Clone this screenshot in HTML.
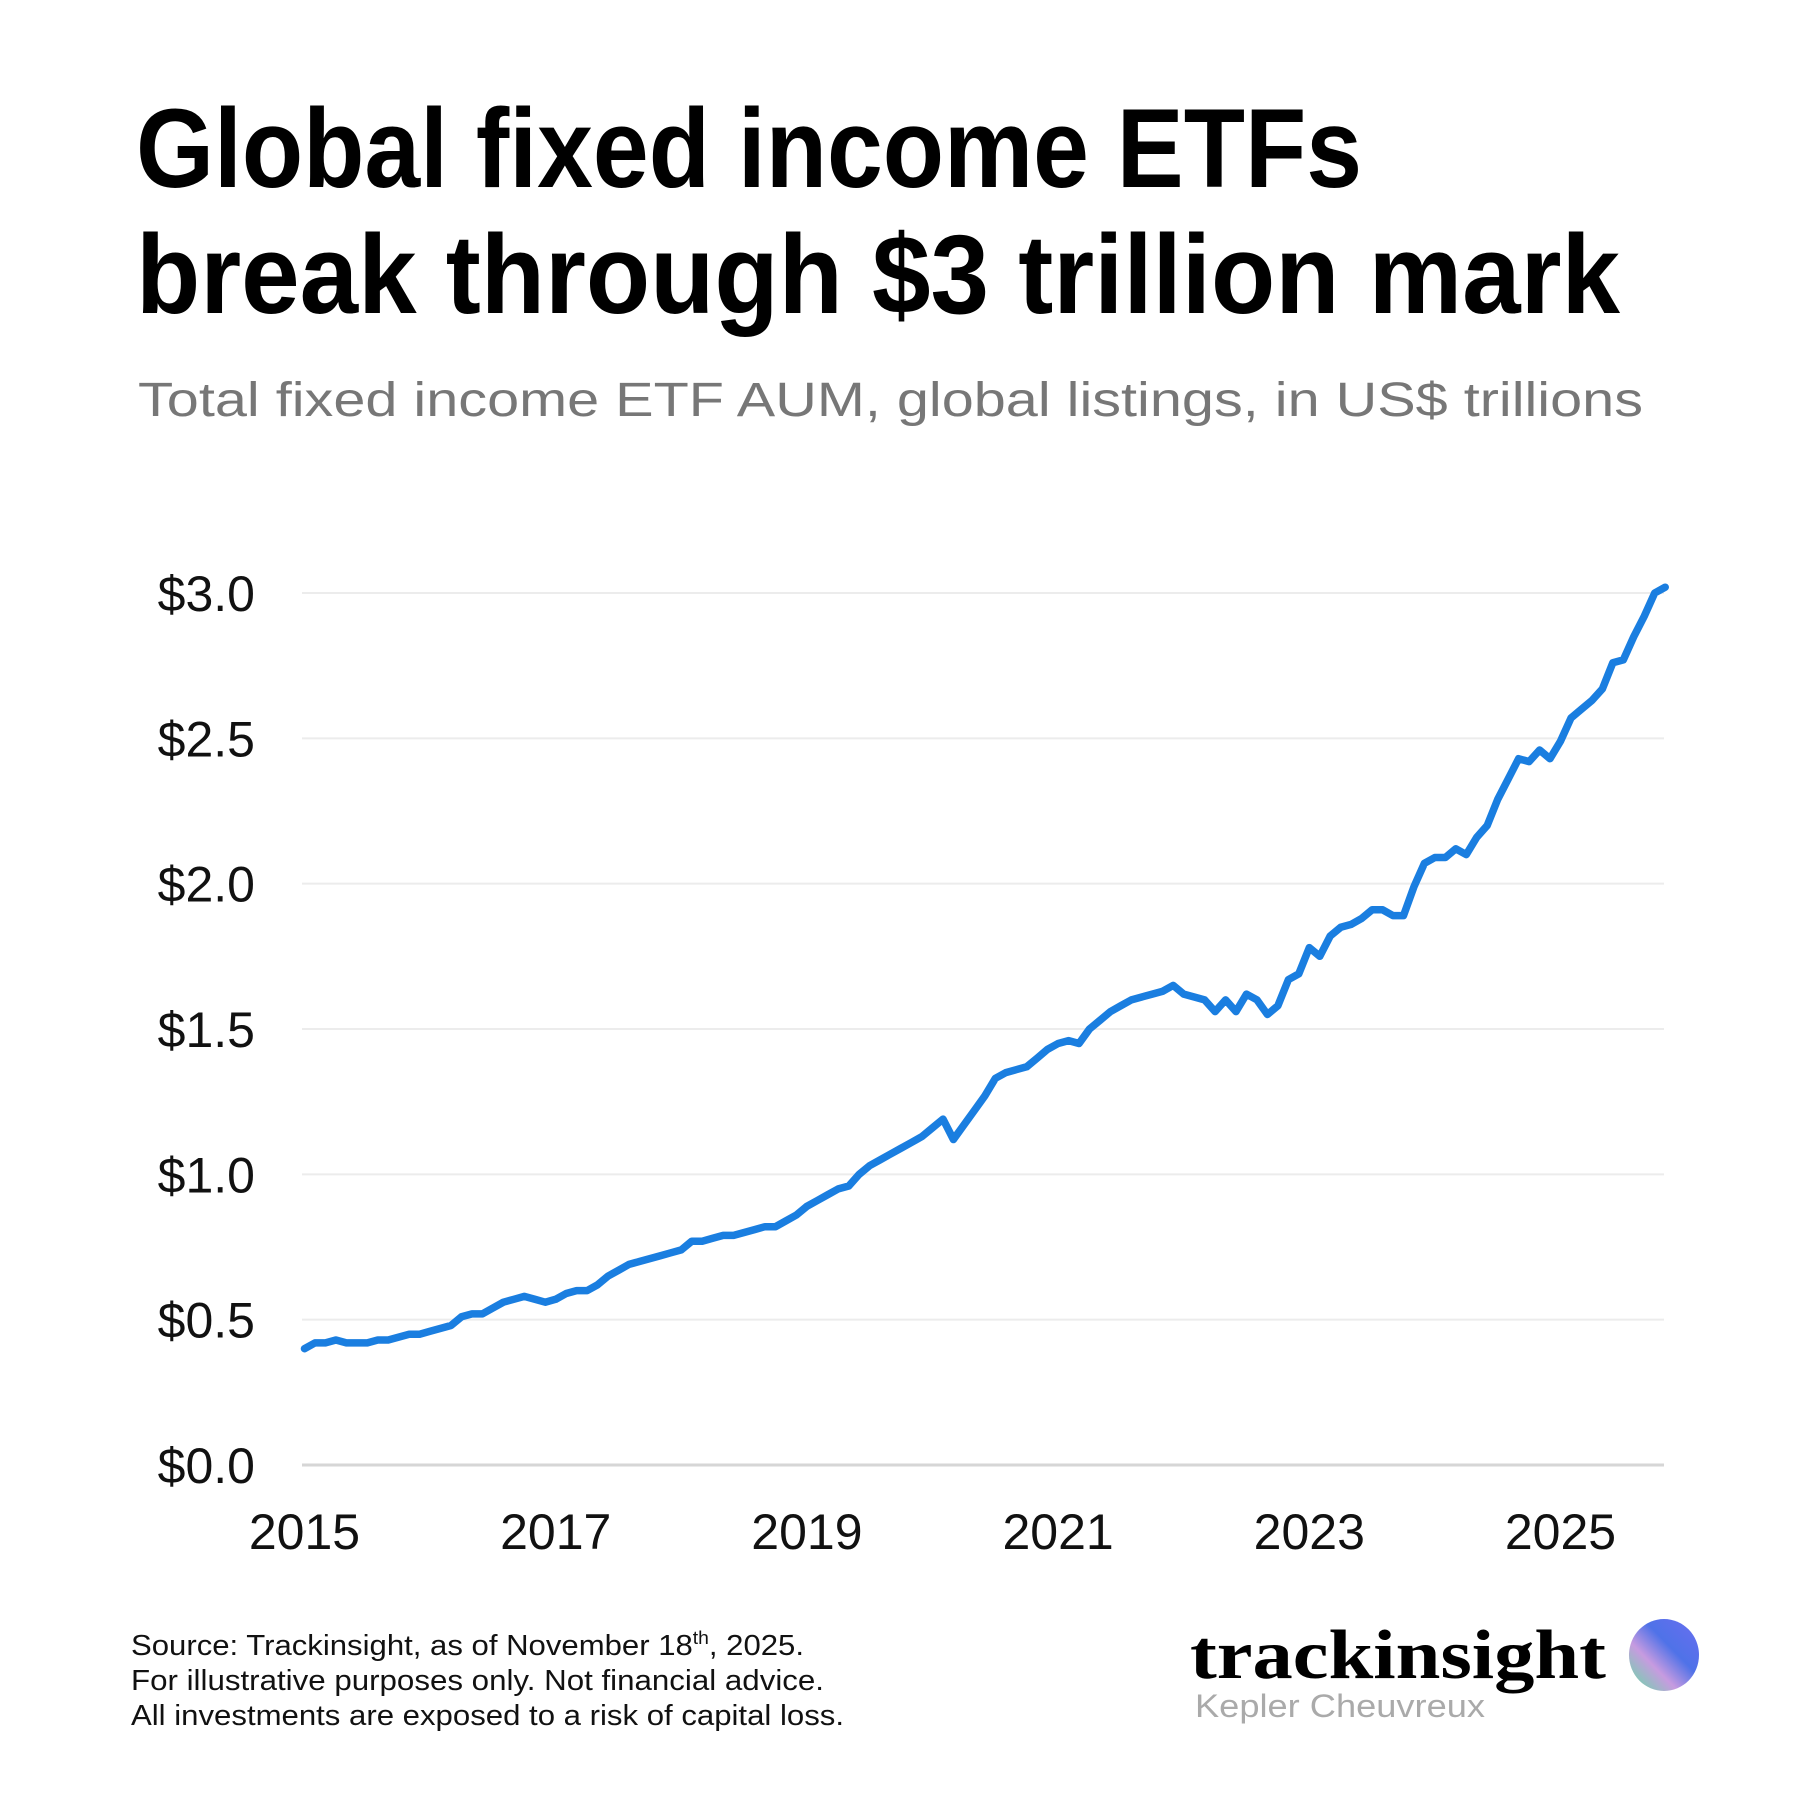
<!DOCTYPE html>
<html><head><meta charset="utf-8"><style>
html,body{margin:0;padding:0;background:#fff;}
svg{display:block;}
text{font-family:"Liberation Sans",sans-serif;}
</style></head><body>
<svg id="chart" width="1800" height="1800" viewBox="0 0 1800 1800" xmlns="http://www.w3.org/2000/svg">
<rect width="1800" height="1800" fill="#fff"/>
<text x="136" y="187" font-size="112" font-weight="bold" fill="#000" textLength="1226" lengthAdjust="spacingAndGlyphs">Global fixed income ETFs</text>
<text x="136" y="313" font-size="112" font-weight="bold" fill="#000" textLength="1484" lengthAdjust="spacingAndGlyphs">break through $3 trillion mark</text>
<text x="138" y="416" font-size="48" fill="#777" textLength="1505" lengthAdjust="spacingAndGlyphs">Total fixed income ETF AUM, global listings, in US$ trillions</text>
<g id="grid"></g>
<g id="yticks"></g>
<g id="xticks"></g>
<path id="line" fill="none" stroke="#1a7ee0" stroke-width="7.5" stroke-linejoin="round" stroke-linecap="round"/>
<g font-size="29" fill="#111">
<text x="131" y="1655" textLength="673" lengthAdjust="spacingAndGlyphs">Source: Trackinsight, as of November 18<tspan font-size="18" dy="-11">th</tspan><tspan dy="11">, 2025.</tspan></text>
<text x="131" y="1690" textLength="693" lengthAdjust="spacingAndGlyphs">For illustrative purposes only. Not financial advice.</text>
<text x="131" y="1725" textLength="713" lengthAdjust="spacingAndGlyphs">All investments are exposed to a risk of capital loss.</text>
</g>
<text x="1190" y="1678" font-weight="bold" font-size="70" fill="#000" textLength="416" lengthAdjust="spacingAndGlyphs" style="font-family:'Liberation Serif',serif">trackinsight</text>
<text x="1195" y="1717" font-size="32" fill="#aaa" textLength="290" lengthAdjust="spacingAndGlyphs">Kepler Cheuvreux</text>
<defs><linearGradient id="lg" x1="0" y1="1" x2="1" y2="0"><stop offset="0" stop-color="#5fe0a0"/><stop offset="0.35" stop-color="#c79be0"/><stop offset="0.6" stop-color="#4f72e8"/><stop offset="1" stop-color="#6a6ef0"/></linearGradient></defs>
<ellipse cx="1664" cy="1655" rx="35" ry="36" fill="url(#lg)"/>
</svg>
<script>
const years=[2015,2017,2019,2021,2023,2025];
const yTicks=[0,0.5,1.0,1.5,2.0,2.5,3.0];
const yTickLabels=["$0.0","$0.5","$1.0","$1.5","$2.0","$2.5","$3.0"];
const startYear=2015;
const aum=[0.40,0.42,0.42,0.43,0.42,0.42,0.42,0.43,0.43,0.44,0.45,0.45,
0.46,0.47,0.48,0.51,0.52,0.52,0.54,0.56,0.57,0.58,0.57,0.56,
0.57,0.59,0.60,0.60,0.62,0.65,0.67,0.69,0.70,0.71,0.72,0.73,
0.74,0.77,0.77,0.78,0.79,0.79,0.80,0.81,0.82,0.82,0.84,0.86,
0.89,0.91,0.93,0.95,0.96,1.00,1.03,1.05,1.07,1.09,1.11,1.13,
1.16,1.19,1.12,1.17,1.22,1.27,1.33,1.35,1.36,1.37,1.40,1.43,
1.45,1.46,1.45,1.50,1.53,1.56,1.58,1.60,1.61,1.62,1.63,1.65,
1.62,1.61,1.60,1.56,1.60,1.56,1.62,1.60,1.55,1.58,1.67,1.69,
1.78,1.75,1.82,1.85,1.86,1.88,1.91,1.91,1.89,1.89,1.99,2.07,
2.09,2.09,2.12,2.10,2.16,2.20,2.29,2.36,2.43,2.42,2.46,2.43,
2.49,2.57,2.60,2.63,2.67,2.76,2.77,2.85,2.92,3.00,3.02];
const NS="http://www.w3.org/2000/svg";
const X0=304.5, PXY=125.6, Y0=1465, PXV=(1465-593)/3;
function xs(y){return X0+(y-startYear)*PXY;}
function ys(v){return Y0-v*PXV;}
const grid=document.getElementById('grid'),yt=document.getElementById('yticks'),xt=document.getElementById('xticks');
yTicks.forEach((v,i)=>{
 const l=document.createElementNS(NS,'line');
 
 
 l.setAttribute('x1',302);l.setAttribute('x2',1664);
 l.setAttribute('y1',ys(v));l.setAttribute('y2',ys(v));
 l.setAttribute('stroke',v===0?'#d6d6d6':'#ececec');l.setAttribute('stroke-width',v===0?3:2);
 grid.appendChild(l);
 const t=document.createElementNS(NS,'text');
 
 
 t.setAttribute('x',255);t.setAttribute('y',ys(v)+18);
 t.setAttribute('text-anchor','end');t.setAttribute('font-size','50');t.setAttribute('fill','#111');
 t.textContent=yTickLabels[i];yt.appendChild(t);
});
years.forEach(y=>{
 const t=document.createElementNS(NS,'text');
 
 
 t.setAttribute('x',xs(y));t.setAttribute('y',1549);
 t.setAttribute('text-anchor','middle');t.setAttribute('font-size','50');t.setAttribute('fill','#111');
 t.textContent=y;xt.appendChild(t);
});
let d='';
aum.forEach((v,i)=>{d+=(i?'L':'M')+xs(startYear+i/12).toFixed(1)+','+ys(v).toFixed(1);});
document.getElementById('line').setAttribute('d',d);
</script>
</body></html>
